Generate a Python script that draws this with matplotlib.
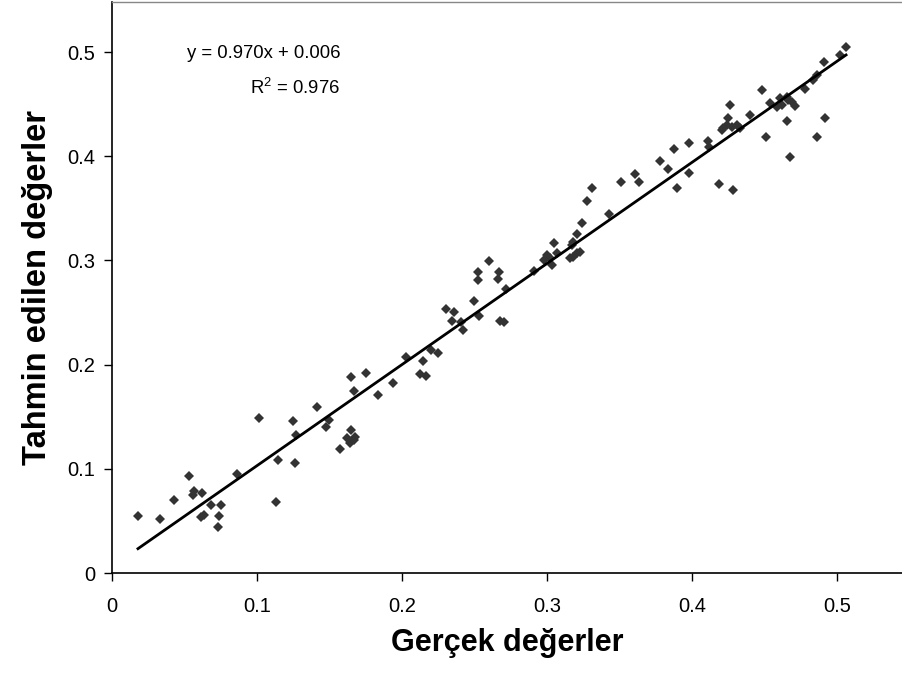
import numpy as np
import matplotlib
matplotlib.use("Agg")
import matplotlib.pyplot as plt

plt.rcParams['font.family'] = ['Liberation Sans', 'DejaVu Sans']
plt.rcParams['mathtext.fontset'] = 'custom'
plt.rcParams['mathtext.rm'] = 'Liberation Sans'
plt.rcParams['mathtext.default'] = 'regular'

gercek = [0.0179, 0.0328, 0.0428, 0.0531, 0.0563, 0.0559, 0.0621, 0.0683, 0.0749, 0.0616,
          0.0632, 0.0738, 0.0733, 0.0864, 0.1014, 0.1133, 0.1145, 0.1262, 0.1250, 0.1271,
          0.1411, 0.1499, 0.1476, 0.1574, 0.1648, 0.1621, 0.1666, 0.1639, 0.1678, 0.1648,
          0.1754, 0.1671, 0.1832, 0.1935, 0.2030, 0.2142, 0.2128, 0.2166, 0.2200, 0.2246,
          0.2301, 0.2356, 0.2345, 0.2409, 0.2421, 0.2494, 0.2533, 0.2526, 0.2526, 0.2604,
          0.2673, 0.2662, 0.2717, 0.2680, 0.2701, 0.2908, 0.3000, 0.2977, 0.3023, 0.3034,
          0.3069, 0.3046, 0.3161, 0.3207, 0.3230, 0.3183, 0.3183, 0.3172, 0.3211, 0.3241,
          0.3280, 0.3310, 0.3428, 0.3510, 0.3609, 0.3639, 0.3779, 0.3834, 0.3878, 0.3899,
          0.3983, 0.3983, 0.4114, 0.4121, 0.4188, 0.4283, 0.4264, 0.4402, 0.4485, 0.4540,
          0.4609, 0.4621, 0.4666, 0.4690, 0.4712, 0.4655, 0.4586, 0.4781, 0.4659, 0.4919,
          0.4510, 0.4862, 0.4678, 0.4252, 0.4218, 0.4241, 0.4276, 0.4310, 0.4333, 0.4207,
          0.5064, 0.5023, 0.4914, 0.4862, 0.4839]
tahmin = [0.0547, 0.0518, 0.0698, 0.0934, 0.0790, 0.0751, 0.0771, 0.0650, 0.0650, 0.0535,
          0.0554, 0.0547, 0.0441, 0.0953, 0.1488, 0.0681, 0.1084, 0.1053, 0.1456, 0.1327,
          0.1593, 0.1468, 0.1398, 0.1190, 0.1372, 0.1293, 0.1276, 0.1245, 0.1308, 0.1878,
          0.1917, 0.1750, 0.1711, 0.1826, 0.2076, 0.2037, 0.1907, 0.1891, 0.2140, 0.2114,
          0.2531, 0.2505, 0.2416, 0.2409, 0.2332, 0.2610, 0.2466, 0.2892, 0.2812, 0.2991,
          0.2892, 0.2824, 0.2728, 0.2416, 0.2409, 0.2901, 0.3052, 0.3004, 0.3020, 0.2956,
          0.3068, 0.3164, 0.3020, 0.3068, 0.3084, 0.3036, 0.3180, 0.3148, 0.3253, 0.3362,
          0.3573, 0.3692, 0.3442, 0.3752, 0.3829, 0.3752, 0.3951, 0.3874, 0.4069, 0.3695,
          0.4124, 0.3842, 0.4149, 0.4091, 0.3730, 0.3676, 0.4488, 0.4398, 0.4635, 0.4513,
          0.4556, 0.4491, 0.4539, 0.4523, 0.4482, 0.4571, 0.4475, 0.4642, 0.4338, 0.4370,
          0.4187, 0.4187, 0.3989, 0.4364, 0.4268, 0.4299, 0.4283, 0.4299, 0.4268, 0.4251,
          0.5045, 0.4971, 0.4907, 0.4779, 0.4731]

slope = 0.970
intercept = 0.006
r2 = 0.976

ticks = [0, 0.1, 0.2, 0.3, 0.4, 0.5]
tick_labels = ['0', '0.1', '0.2', '0.3', '0.4', '0.5']

fig = plt.figure(figsize=(9.02, 6.77), dpi=100)
ax = fig.add_axes([0.1242, 0.1536, 0.8758, 0.8434])

ax.plot(gercek, tahmin, linestyle='none', marker='D', markersize=4.9,
        color='#333333', markeredgewidth=0)

xs = np.array([min(gercek), max(gercek)])
ax.plot(xs, slope * xs + intercept, color='black', linewidth=2.0)

ax.text(0.1574, 0.499, 'y = %.3fx + %.3f' % (slope, intercept), ha='right', va='center',
        fontsize=13.3)
ax.text(0.1574, 0.4655, 'R$^2$ = %.3f' % r2, ha='right', va='center', fontsize=13.3)

ax.set_xlim(0, 0.545)
ax.set_ylim(0, 0.548)
ax.set_xticks(ticks)
ax.set_xticklabels(tick_labels)
ax.set_yticks(ticks)
ax.set_yticklabels(tick_labels)
ax.tick_params(direction='out', length=6, width=1, labelsize=14.5)
ax.tick_params(axis='x', pad=11)
ax.tick_params(axis='y', pad=6)

ax.spines['right'].set_visible(False)
ax.spines['top'].set_color('#888888')
ax.spines['top'].set_linewidth(1)
ax.spines['left'].set_linewidth(1.2)
ax.spines['bottom'].set_linewidth(1.2)

ax.set_xlabel('Gerçek değerler', fontsize=22, fontweight='bold', labelpad=9)
ax.set_ylabel('Tahmin edilen değerler', fontsize=23.5, fontweight='bold', labelpad=10)

fig.savefig('out.png', dpi=100)
